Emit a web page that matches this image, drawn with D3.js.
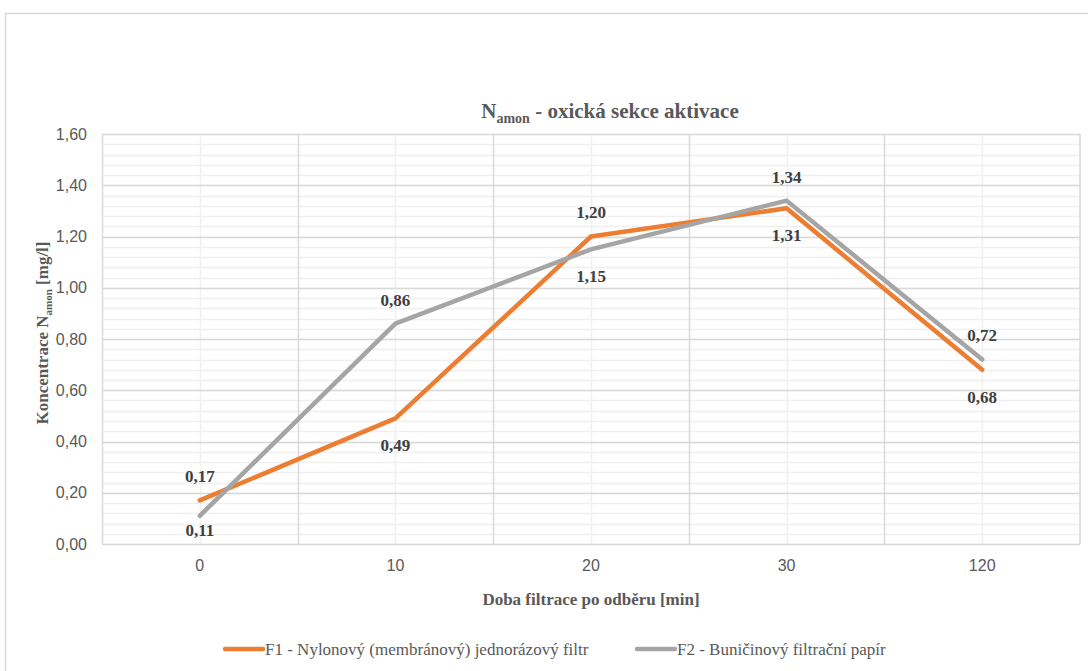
<!DOCTYPE html>
<html>
<head>
<meta charset="utf-8">
<script src="https://cdn.jsdelivr.net/npm/d3@7"></script>
<style>
  body { margin: 0; background: #fff; }
  svg { display: block; }
  .serif { font-family: "Liberation Serif", "DejaVu Serif", serif; }
  .sans { font-family: "Liberation Sans", Arial, sans-serif; }
</style>
</head>
<body>
<div id="chart"></div>
<script>
// data
var categories = ["0", "10", "20", "30", "120"];
var seriesNames = ["F1 - Nylonový (membránový) jednorázový filtr", "F2 - Buničinový filtrační papír"];
var f1Values = [0.17, 0.49, 1.20, 1.31, 0.68];
var f2Values = [0.11, 0.86, 1.15, 1.34, 0.72];
var f1LabelPos = ["above", "below", "above", "below", "below"];
var f2LabelPos = ["below", "above", "below", "above", "above"];
var yTicks = [0, 0.2, 0.4, 0.6, 0.8, 1.0, 1.2, 1.4, 1.6];

var width = 1088, height = 671;
var margin = {top: 134, right: 8, bottom: 127, left: 102};
var plotW = 1080 - margin.left, plotH = 544 - margin.top;
var colors = ["#ED7D31", "#A5A5A5"];

var svg = d3.select("#chart").append("svg")
    .attr("width", width).attr("height", height);

// outer chart frame
svg.append("rect")
    .attr("x", 5.5).attr("y", 13.5)
    .attr("width", 1200).attr("height", 800)
    .attr("fill", "#fff").attr("stroke", "#d9d9d9").attr("stroke-width", 1.5);

var g = svg.append("g").attr("transform", "translate(" + margin.left + "," + margin.top + ")");

var x = d3.scaleBand().domain(categories).range([0, plotW]).padding(0);
var y = d3.scaleLinear().domain([0, 1.6]).range([plotH, 0]);

// minor horizontal gridlines
g.append("g").selectAll("line")
    .data(d3.range(0, 41).map(function(i) { return i * 0.04; }))
    .enter().append("line")
    .attr("x1", 0).attr("x2", plotW)
    .attr("y1", function(d) { return Math.round(y(d)) + 0.5; })
    .attr("y2", function(d) { return Math.round(y(d)) + 0.5; })
    .attr("stroke", "#f0f0f0").attr("stroke-width", 1.5);

// minor vertical gridlines (category centres)
g.append("g").selectAll("line")
    .data(categories)
    .enter().append("line")
    .attr("x1", function(d) { return Math.round(x(d) + x.bandwidth() / 2) + 0.5; })
    .attr("x2", function(d) { return Math.round(x(d) + x.bandwidth() / 2) + 0.5; })
    .attr("y1", 0).attr("y2", plotH)
    .attr("stroke", "#f0f0f0").attr("stroke-width", 1.5);

// major horizontal gridlines
g.append("g").selectAll("line")
    .data(yTicks)
    .enter().append("line")
    .attr("x1", 0).attr("x2", plotW)
    .attr("y1", function(d) { return Math.round(y(d)) + 0.5; })
    .attr("y2", function(d) { return Math.round(y(d)) + 0.5; })
    .attr("stroke", "#d9d9d9").attr("stroke-width", 1.5);

// major vertical gridlines (category boundaries)
g.append("g").selectAll("line")
    .data(categories.concat(["end"]))
    .enter().append("line")
    .attr("x1", function(d) { return d === "end" ? plotW : Math.round(x(d)) + 0.5; })
    .attr("x2", function(d) { return d === "end" ? plotW : Math.round(x(d)) + 0.5; })
    .attr("y1", 0).attr("y2", plotH)
    .attr("stroke", "#d9d9d9").attr("stroke-width", 1.5);

// y axis labels
var yAxis = g.append("g")
    .call(d3.axisLeft(y).tickValues(yTicks).tickSize(0).tickPadding(15)
        .tickFormat(function(d) { return d3.format(".2f")(d).replace(".", ","); }));
yAxis.select(".domain").remove();
yAxis.attr("font-family", null).attr("font-size", null);
yAxis.selectAll("text")
    .attr("class", "sans").attr("font-size", 16).attr("fill", "#595959");

// x axis labels
var xAxis = g.append("g")
    .attr("transform", "translate(0," + plotH + ")")
    .call(d3.axisBottom(x).tickSize(0).tickPadding(16));
xAxis.select(".domain").remove();
xAxis.attr("font-family", null).attr("font-size", null);
xAxis.selectAll("text")
    .attr("class", "sans").attr("font-size", 16).attr("fill", "#595959");

// lines
var line = d3.line()
    .x(function(d, i) { return x(categories[i]) + x.bandwidth() / 2; })
    .y(function(d) { return y(d); });

var allSeries = [f1Values, f2Values];
var allPos = [f1LabelPos, f2LabelPos];

allSeries.forEach(function(vals, s) {
    g.append("path")
        .datum(vals)
        .attr("fill", "none")
        .attr("stroke", colors[s])
        .attr("stroke-width", 4.5)
        .attr("stroke-linejoin", "round")
        .attr("stroke-linecap", "round")
        .attr("d", line);
});

// data labels
allSeries.forEach(function(vals, s) {
    g.append("g").selectAll("text")
        .data(vals)
        .enter().append("text")
        .attr("class", "serif")
        .attr("x", function(d, i) { return x(categories[i]) + x.bandwidth() / 2; })
        .attr("y", function(d, i) {
            var yy = allPos[s][i] === "above" ? y(d) - 24 : y(d) + 27;
            return Math.min(yy, plotH - 14);
        })
        .attr("dy", "0.35em")
        .attr("text-anchor", "middle")
        .attr("font-weight", "bold")
        .attr("font-size", 17).attr("fill", "#404040")
        .text(function(d) { return d3.format(".2f")(d).replace(".", ","); });
});

// chart title
var title = svg.append("text")
    .attr("class", "serif")
    .attr("x", 610).attr("y", 118)
    .attr("text-anchor", "middle")
    .attr("font-weight", "bold")
    .attr("font-size", 21).attr("fill", "#595959");
title.append("tspan").text("N");
title.append("tspan").attr("font-size", 14).attr("dy", 5).text("amon");
title.append("tspan").attr("dy", -5).text(" - oxická sekce aktivace");

// y axis title
var yTitle = svg.append("text")
    .attr("class", "serif")
    .attr("transform", "translate(48," + (margin.top + plotH / 2 - 6) + ") rotate(-90)")
    .attr("text-anchor", "middle")
    .attr("font-weight", "bold")
    .attr("font-size", 17).attr("fill", "#595959");
yTitle.append("tspan").text("Koncentrace N");
yTitle.append("tspan").attr("font-size", 11).attr("dy", 4).text("amon");
yTitle.append("tspan").attr("dy", -4).text(" [mg/l]");

// x axis title
svg.append("text")
    .attr("class", "serif")
    .attr("x", margin.left + plotW / 2).attr("y", 605)
    .attr("text-anchor", "middle")
    .attr("font-weight", "bold")
    .attr("font-size", 17).attr("fill", "#595959")
    .text("Doba filtrace po odběru [min]");

// legend
var legendX = [225, 637];
var legend = svg.append("g").selectAll("g")
    .data(seriesNames)
    .enter().append("g")
    .attr("transform", function(d, i) { return "translate(" + legendX[i] + ",649)"; });
legend.append("line")
    .attr("x1", 0).attr("x2", 38)
    .attr("stroke", function(d, i) { return colors[i]; })
    .attr("stroke-width", 4.5).attr("stroke-linecap", "round");
legend.append("text")
    .attr("class", "serif")
    .attr("x", 40).attr("dy", "0.35em")
    .attr("font-size", 17).attr("fill", "#595959")
    .text(function(d) { return d; });
</script>
</body>
</html>
